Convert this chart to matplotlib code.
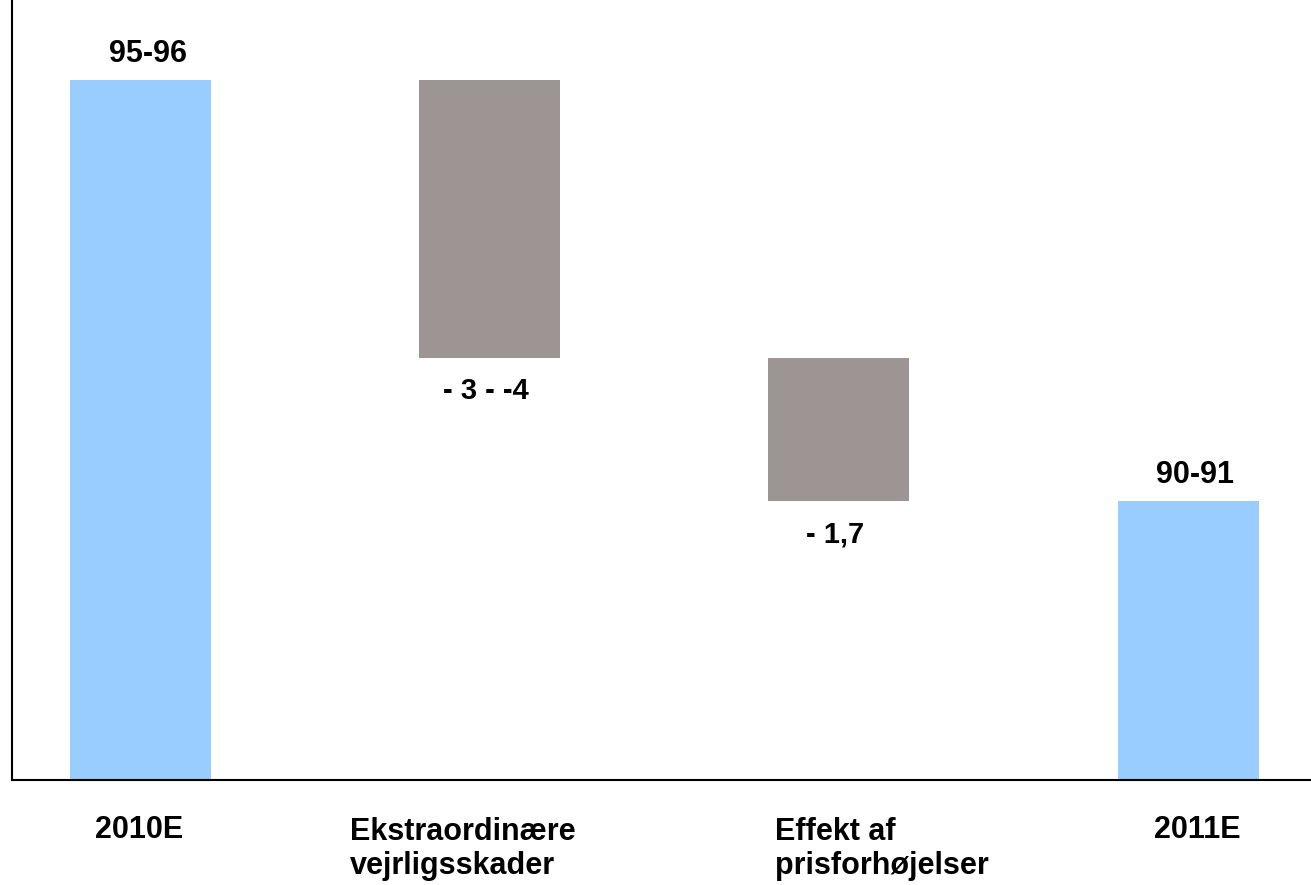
import matplotlib.pyplot as plt
from matplotlib.transforms import blended_transform_factory

plt.rcParams['font.family'] = ['Liberation Sans', 'DejaVu Sans']
plt.rcParams['font.weight'] = 'bold'

# waterfall: start total, two changes, end total
categories = ['2010E', 'Ekstraordinære\nvejrligsskader', 'Effekt af\nprisforhøjelser', '2011E']
values = [95.5, -3.3, -1.7, 90.5]
is_total = [True, False, False, True]
value_labels = ['95-96', '- 3 - -4', '- 1,7', '90-91']

blue = '#99CCFF'
grey = '#9D9593'

fig = plt.figure(figsize=(13.11, 8.85), dpi=100)
ax = fig.add_axes([0.0092, 0.1186, 0.9908, 0.8814])

x = list(range(len(categories)))
width = 0.404
running = 0.0
for i, (v, tot) in enumerate(zip(values, is_total)):
    if tot:
        ax.bar(x[i], v, width=width, color=blue, zorder=2)
        ax.annotate(value_labels[i], (x[i] + 0.02, v), xytext=(0, 8),
                    textcoords='offset points', ha='center', va='bottom',
                    fontsize=22, fontweight='bold')
        running = v
    else:
        ax.bar(x[i], v, bottom=running, width=width, color=grey, zorder=2)
        running += v
        ax.annotate(value_labels[i], (x[i] - 0.01, running), xytext=(0, -14),
                    textcoords='offset points', ha='center', va='top',
                    fontsize=21, fontweight='bold')

ax.set_xlim(-0.368, 3.352)
ax.set_ylim(87.19, 96.45)

ax.set_xticks([])
ax.set_yticks([])
for side in ['top', 'right']:
    ax.spines[side].set_visible(False)
for side in ['left', 'bottom']:
    ax.spines[side].set_linewidth(1.5)
    ax.spines[side].set_color('black')

# category labels sit in free text boxes below the axis
trans = blended_transform_factory(ax.transData, ax.transAxes)
label_x = [-0.005, 0.60, 1.817, 3.025]
label_ha = ['center', 'left', 'left', 'center']
for lx, ha, cat in zip(label_x, label_ha, categories):
    if '\n' in cat:
        ax.text(lx, -0.047, cat, transform=trans, ha=ha, va='top',
                fontsize=22, fontweight='bold', linespacing=1.2)
    else:
        ax.text(lx, -0.064, cat, transform=trans, ha=ha, va='center',
                fontsize=22, fontweight='bold')

fig.savefig('out.png', dpi=100)
